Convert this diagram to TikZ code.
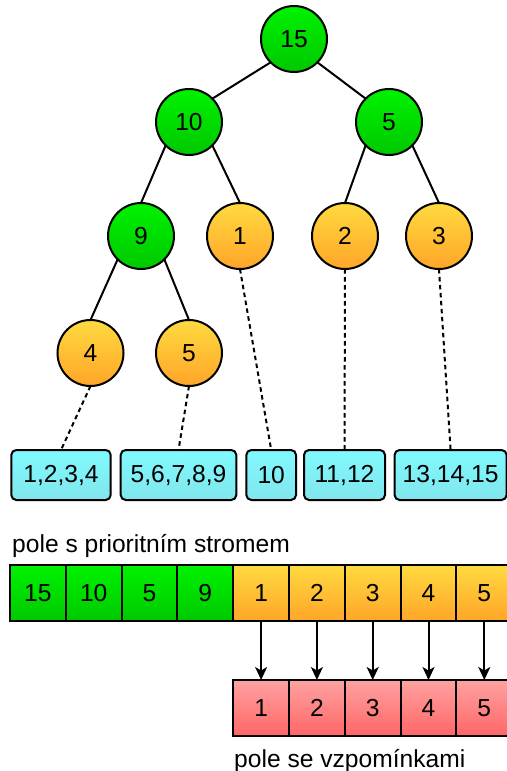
\documentclass[tikz,border=0pt]{standalone}
\usepackage{fontspec}
\setmainfont{Liberation Sans}
\usetikzlibrary{arrows.meta}
\definecolor{gtop}{RGB}{0,242,0}
\definecolor{gbot}{RGB}{0,200,0}
\definecolor{otop}{RGB}{255,218,64}
\definecolor{obot}{RGB}{255,165,40}
\definecolor{ctop}{RGB}{128,250,255}
\definecolor{cbot}{RGB}{128,230,236}
\definecolor{rtop}{RGB}{255,162,162}
\definecolor{rbot}{RGB}{255,102,102}
\tikzset{
  txt/.style={font=\fontsize{24.7}{29}\selectfont},
  tnode/.style={circle, draw, line width=2bp, minimum size=66bp, inner sep=0pt, outer sep=0pt, txt},
  gnode/.style={tnode, top color=gtop, bottom color=gbot},
  onode/.style={tnode, top color=otop, bottom color=obot},
  bucket/.style={draw, line width=2bp, rounded corners=5bp, minimum height=50bp, inner sep=0pt, outer sep=0pt, top color=ctop, bottom color=cbot, txt},
  cell/.style={draw, line width=2bp, minimum width=55.8bp, minimum height=56bp, inner sep=0pt, outer sep=0pt, txt},
  gcell/.style={cell, top color=gtop, bottom color=gbot},
  ocell/.style={cell, top color=otop, bottom color=obot},
  rcell/.style={cell, top color=rtop, bottom color=rbot},
  edge/.style={line width=2bp},
  dedge/.style={line width=2bp, dash pattern=on 4.5bp off 3.5bp},
  arr/.style={line width=2bp, -{Stealth[length=13bp,width=12bp,inset=3.5bp]}},
  lbl/.style={inner sep=0pt, anchor=base west, txt}
}
\begin{document}
\begin{tikzpicture}[x=1bp,y=-1bp]
\useasboundingbox (0,0) rectangle (507,771);
% tree
\node[gnode] (n15) at (294,39) {15};
\node[gnode] (n10) at (189,122) {10};
\node[gnode] (n5) at (389,122) {5};
\node[gnode] (n9) at (141,236) {9};
\node[onode] (n1) at (240,236) {1};
\node[onode] (n2) at (345,236) {2};
\node[onode] (n3) at (439,236) {3};
\node[onode] (n4) at (90.5,353) {4};
\node[onode] (n5b) at (189,353) {5};
\draw[edge] (n15.south west) -- (n10.north east);
\draw[edge] (n15.south east) -- (n5.north west);
\draw[edge] (n10.south west) -- (n9.north);
\draw[edge] (n10.south east) -- (n1.north);
\draw[edge] (n5.south west) -- (n2.north);
\draw[edge] (n5.south east) -- (n3.north);
\draw[edge] (n9.south west) -- (n4.north);
\draw[edge] (n9.south east) -- (n5b.north);
% buckets
\node[bucket, minimum width=99.4bp] (b1) at (61,475) {1,2,3,4};
\node[bucket, minimum width=115.6bp] (b2) at (178.5,475) {5,6,7,8,9};
\node[bucket, minimum width=49.7bp] (b3) at (271.2,475) {10};
\node[bucket, minimum width=81bp] (b4) at (344.5,475) {11,12};
\node[bucket, minimum width=112bp] (b5) at (450.6,475) {13,14,15};
\draw[dedge] (n4.south) -- (b1.north);
\draw[dedge] (n5b.south) -- (b2.north);
\draw[dedge] (n1.south) -- (b3.north);
\draw[dedge] (n2.south) -- (b4.north);
\draw[dedge] (n3.south) -- (b5.north);
% arrays
\node[lbl] (l1) at (12,552) {pole s prioritním stromem};
\node[gcell] (a1) at (37.9,593) {15};
\node[gcell] (a2) at (93.7,593) {10};
\node[gcell] (a3) at (149.5,593) {5};
\node[gcell] (a4) at (205.3,593) {9};
\node[ocell] (a5) at (261.1,593) {1};
\node[ocell] (a6) at (316.9,593) {2};
\node[ocell] (a7) at (372.7,593) {3};
\node[ocell] (a8) at (428.5,593) {4};
\node[ocell] (a9) at (484.3,593) {5};
\node[rcell] (r1) at (261.1,708) {1};
\node[rcell] (r2) at (316.9,708) {2};
\node[rcell] (r3) at (372.7,708) {3};
\node[rcell] (r4) at (428.5,708) {4};
\node[rcell] (r5) at (484.3,708) {5};
\foreach \i/\j in {5/1,6/2,7/3,8/4,9/5}{
  \draw[arr] (a\i.south) -- (r\j.north);
}
\node[lbl] (l2) at (234,767) {pole se vzpomínkami};
\end{tikzpicture}
\end{document}
